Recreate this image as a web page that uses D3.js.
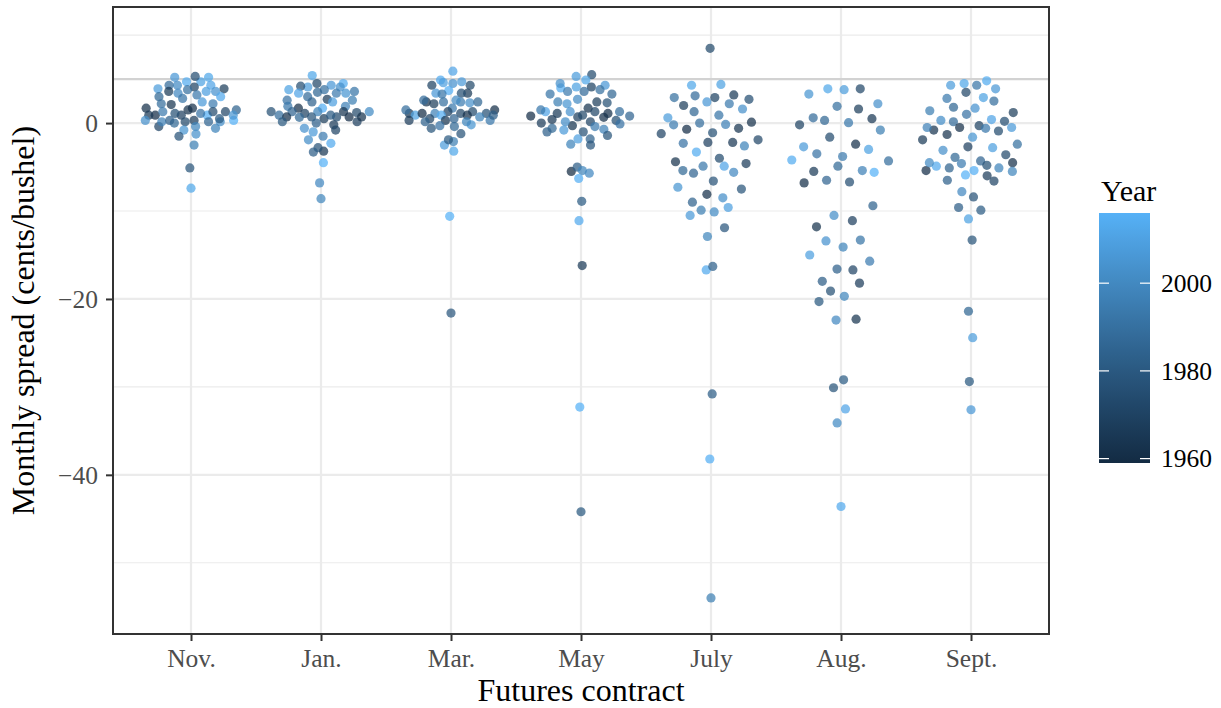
<!DOCTYPE html>
<html>
<head>
<meta charset="utf-8">
<script src="https://cdn.jsdelivr.net/npm/d3@7"></script>
<style>
  html, body { margin: 0; padding: 0; background: #ffffff; }
  svg { display: block; font-family: "Liberation Serif", "Times New Roman", serif; }
</style>
</head>
<body>
<svg id="chart" width="1221" height="708"></svg>
<script>
// Futures contracts on the x axis
const contracts = ["Nov.", "Jan.", "Mar.", "May", "July", "Aug.", "Sept."];

// Monthly spread (cents/bushel) and the year of each observation, per contract
const spreadNov = [3.9, 4.7, 5.2, 5.2, 5.3, 4.7, 3.9, 4.1, 4.3, 3.8, 4.3, 3.6, 4.3, 3.6, 3.6, 3.2, 3.4, 3.0, 3.0, 2.8,
  2.2, 2.1, 2.4, 2.2, 1.7, 1.3, 0.9, 0.9, 0.3, 1.3, 0.9, 1.5, 1.5, 1.1, 0.9, 1.3, 1.7, 1.1, 0.9, 0.3,
  0.15, -0.4, 0.0, 0.15, 0.3, -0.4, 0.15, -0.6, 0.15, -0.8, -1.5, -1.25, -2.5, -5.1, -7.4, 0.5, 0.3];
const yearNov = [1968, 2010, 2012, 2006, 1975, 2014, 2008, 1970, 2001, 1990, 2011, 2004, 1988, 1966, 2009, 1993, 2000, 2013, 1986, 1992,
  1995, 1964, 2007, 1989, 1962, 1972, 1960, 2015, 2016, 1994, 1969, 1963, 1984, 1991, 2005, 1974, 1961, 1976, 1965, 2003,
  2002, 1971, 1987, 1997, 1967, 1999, 1985, 1998, 1973, 2005, 1977, 2003, 1996, 1978, 2012, 1980, 1983];

const spreadJan = [5.4, 4.5, 4.1, 3.8, 4.3, 4.5, 4.1, 4.2, 3.8, 3.5, 3.6, 3.4, 3.4, 3.4, 3.0, 2.6, 2.7, 2.4, 2.6, 2.4,
  1.9, 1.7, 1.9, 1.7, 1.3, 1.3, 0.9, 1.3, 1.1, 1.2, 1.3, 1.3, 0.7, 0.65, 0.5, 0.7, 0.7, 0.7, 0.15, 0.7,
  0.0, -0.2, -0.6, -1.0, -0.8, -1.5, -1.9, -2.3, -3.2, -2.8, -3.3, -4.5, -6.8, -8.6, 0.9, 0.15];
const yearJan = [2012, 1972, 2008, 2010, 2006, 2014, 2003, 1975, 1990, 1986, 1992, 2005, 2011, 1994, 1988, 1996, 1966, 2009, 1991, 1984,
  1997, 2015, 1993, 1961, 1985, 1964, 1989, 1998, 1970, 1973, 2001, 1976, 1960, 1987, 1968, 1962, 1974, 1978, 1969, 1963,
  1983, 1967, 2004, 2007, 1971, 1995, 2002, 2013, 1965, 1977, 1982, 2016, 2000, 1999, 1981, 1980];

const spreadMar = [5.9, 4.7, 4.9, 4.6, 4.3, 4.5, 4.3, 3.7, 3.4, 3.4, 3.4, 3.3, 2.4, 2.6, 2.2, 2.4, 2.4, 2.6, 2.3, 2.4,
  1.5, 1.1, 1.1, 0.9, 1.3, 1.7, 1.1, 1.1, 1.5, 1.1, 1.3, 0.9, 0.9, 0.3, 0.5, 0.3, 0.5, 0.7, 0.3, -0.2,
  -0.4, -0.6, -0.3, -1.2, -2.5, -2.1, -1.9, -3.2, 0.15, 0.15, 0.9, -10.6, -21.6];
const yearMar = [2011, 2007, 2013, 2009, 1973, 2004, 1970, 2015, 1966, 2006, 1975, 1992, 1963, 1988, 1968, 1995, 1990, 2001, 2003, 1986,
  1961, 1965, 1972, 2010, 1974, 1994, 1997, 1976, 1989, 1960, 1969, 1962, 2014, 1964, 1985, 1993, 1971, 1998, 1967, 2005,
  1987, 1978, 1991, 1977, 2008, 1996, 1980, 2012, 1984, 1999, 1982, 2016, 1979];

const spreadMay = [5.5, 5.3, 4.9, 4.0, 4.1, 4.3, 4.1, 4.5, 3.8, 3.6, 3.6, 3.3, 3.3, 2.7, 2.4, 2.2, 2.4, 2.3, 1.7, 1.3,
  1.1, 1.3, 1.1, 1.3, 1.3, 1.5, 0.8, 0.8, 0.4, 0.7, 0.9, 0.65, 0.3, 0.0, 0.15, -0.3, 0.15, -0.4, -0.1, -0.6,
  -1.0, -0.8, -1.0, -0.7, -1.4, -1.8, -1.8, -2.4, -2.5, -5.5, -5.0, -5.4, -6.3, -5.7, -8.9, -11.1, -16.2, -32.3, -44.2];
const yearMay = [1974, 2008, 2012, 2014, 1970, 2006, 2010, 2003, 1990, 1988, 1994, 1986, 1992, 2001, 1996, 2005, 1968, 1976, 1963, 2011,
  1966, 1972, 1961, 2004, 1989, 1993, 1985, 1960, 1965, 1969, 1973, 1962, 1975, 1967, 1971, 1964, 2002, 1995, 1991, 1987,
  1983, 2007, 1977, 1997, 1978, 1984, 2009, 1998, 1979, 1959, 1982, 1999, 2015, 2000, 1981, 2013, 1966, 2016, 1980];

const spreadJuly = [8.5, 4.3, 4.4, 2.9, 2.4, 3.1, 2.9, 2.7, 3.2, 2.2, 2.0, 1.6, 1.3, 0.6, 0.9, -0.2, 0.0, -0.15, 0.1, -0.6,
  -1.2, -0.7, -1.1, -2.3, -2.2, -2.2, -1.9, -2.6, -3.3, -4.4, -4.9, -5.7, -4.9, -4.0, -4.6, -5.6, -5.4, -7.3, -8.1, -6.6,
  -7.5, -8.5, -9.0, -10.5, -9.9, -10.1, -9.6, -11.9, -12.9, -16.7, -16.3, -30.8, -38.2, -54.0];
const yearJuly = [1973, 2012, 2010, 1990, 2006, 1988, 1970, 1975, 1966, 1994, 1968, 2003, 1986, 2008, 1992, 1995, 1989, 1997, 1962, 1964,
  1971, 1960, 1976, 1991, 1965, 1969, 1972, 1998, 2014, 1963, 2011, 1985, 1993, 1974, 1967, 2000, 1987, 2005, 1961, 1977,
  1978, 2002, 1984, 2007, 1996, 2001, 2009, 1979, 1999, 2013, 1983, 1982, 2015, 1996];

const spreadAug = [3.9, 3.8, 3.3, 3.9, 2.2, 1.6, 1.9, 0.5, 0.05, 0.6, -0.2, 0.3, -0.8, -1.6, -2.4, -2.7, -3.0, -3.5, -3.8, -4.3,
  -4.2, -4.9, -5.6, -5.4, -5.5, -6.7, -6.8, -6.5, -9.4, -11.1, -10.5, -11.8, -13.3, -13.4, -14.1, -15.0, -15.7, -16.7, -16.6, -18.2,
  -18.0, -19.1, -19.7, -20.3, -22.3, -22.4, -29.2, -30.1, -32.5, -34.1, -43.6];
const yearAug = [2012, 2008, 2005, 1972, 2003, 1968, 1990, 1965, 1993, 1988, 1970, 1986, 1996, 1974, 1962, 2007, 2010, 1991, 1994, 1989,
  2014, 1987, 2016, 1997, 1966, 1975, 1961, 1985, 1984, 1969, 2002, 1963, 1992, 2004, 1998, 2009, 1995, 1971, 1983, 1967,
  1982, 1976, 1999, 1980, 1964, 2000, 1981, 1978, 2011, 2001, 2013];

const spreadSept = [4.3, 4.5, 4.3, 4.8, 3.9, 3.5, 2.9, 2.5, 2.8, 1.8, 1.7, 1.0, 1.4, 1.2, 0.3, 0.15, 0.4, 0.2, -0.5, -0.8,
  -0.5, -0.3, -0.6, -0.9, -0.5, -1.9, -1.3, -1.6, -2.7, -2.8, -2.4, -3.6, -3.1, -3.9, -4.6, -4.3, -4.8, -4.5, -4.9, -5.4,
  -5.1, -5.4, -5.1, -4.5, -5.5, -5.9, -6.0, -6.6, -6.5, -7.8, -8.4, -9.6, -9.9, -10.9, -13.3, -21.4, -24.4, -29.4, -32.6];
const yearSept = [2008, 2012, 1992, 2014, 2006, 1972, 2010, 1989, 1994, 1986, 2004, 1991, 1996, 1968, 2002, 1988, 2011, 1975, 1961, 1964,
  2007, 1970, 1993, 1974, 1997, 1966, 1963, 2005, 1969, 2009, 1990, 1973, 2003, 1987, 1995, 1985, 1976, 1962, 2013, 1960,
  1984, 2015, 1998, 2001, 1999, 2016, 1967, 1971, 1983, 2000, 1977, 1982, 1981, 2010, 1978, 1986, 2008, 1980, 2006];

// Axis and legend ticks
const yTicks = [0, -20, -40];
const yMinorTicks = [10, -10, -30, -50];
const referenceLevel = 5;
const yearTicks = [1960, 1980, 2000];

const spreadSets = [spreadNov, spreadJan, spreadMar, spreadMay, spreadJuly, spreadAug, spreadSept];
const yearSets = [yearNov, yearJan, yearMar, yearMay, yearJuly, yearAug, yearSept];

// ---------------- layout ----------------
const W = 1221, H = 708;
const panel = { left: 113, right: 1049, top: 7, bottom: 634 };
const svg = d3.select("#chart");

const x = d3.scalePoint().domain(contracts).range([panel.left, panel.right]).padding(0.6);
const y = d3.scaleLinear().domain([-58.1, 13.2]).range([panel.bottom, panel.top]);

const allYears = yearSets.flat();
const yearExtent = [1959, 2016];
const color = d3.scaleLinear().domain(yearExtent).range(["#132B43", "#56B1F7"]).interpolate(d3.interpolateLab);

// ---------------- quasirandom offsets ----------------
function vanDerCorput(k) {
  let v = 0, denom = 1;
  while (k > 0) { denom *= 2; v += (k % 2) / denom; k = Math.floor(k / 2); }
  return v;
}
function quantile7(sorted, p) {
  const h = (sorted.length - 1) * p, lo = Math.floor(h), hi = Math.ceil(h);
  return sorted[lo] + (h - lo) * (sorted[hi] - sorted[lo]);
}
function quasiOffsets(vals, halfWidth) {
  const n = vals.length;
  const sorted = vals.slice().sort((a, b) => a - b);
  const sd = d3.deviation(vals);
  const iqr = quantile7(sorted, 0.75) - quantile7(sorted, 0.25);
  const lo = Math.min(sd, iqr / 1.34);
  const bw = 0.9 * (lo > 0 ? lo : sd) * Math.pow(n, -0.2);
  const dens = v => d3.sum(vals, u => Math.exp(-0.5 * ((v - u) / bw) ** 2));
  const g0 = sorted[0] - 3 * bw, g1 = sorted[n - 1] + 3 * bw;
  let maxD = 0;
  for (let i = 0; i < 512; i++) maxD = Math.max(maxD, dens(g0 + (g1 - g0) * i / 511));
  // rank with ties broken by order of appearance
  const order = d3.range(n).sort((a, b) => (vals[a] - vals[b]) || (a - b));
  const rank = new Array(n);
  order.forEach((idx, r) => { rank[idx] = r + 1; });
  return vals.map((v, i) => (vanDerCorput(rank[i]) - 0.5) * 2 * (dens(v) / maxD) * halfWidth);
}

const halfWidth = 0.4 * x.step();
const points = [];
contracts.forEach((c, ci) => {
  const vals = spreadSets[ci], yrs = yearSets[ci];
  const offs = quasiOffsets(vals, halfWidth);
  vals.forEach((v, i) => points.push({ contract: c, spread: v, year: yrs[i], dx: offs[i] }));
});

// ---------------- panel ----------------
svg.append("rect").attr("width", W).attr("height", H).attr("fill", "#ffffff");

const grid = svg.append("g");
grid.selectAll(".minor").data(yMinorTicks).join("line")
  .attr("x1", panel.left).attr("x2", panel.right)
  .attr("y1", d => y(d)).attr("y2", d => y(d))
  .attr("stroke", "#EBEBEB").attr("stroke-width", 1.1);
grid.selectAll(".major").data(yTicks).join("line")
  .attr("x1", panel.left).attr("x2", panel.right)
  .attr("y1", d => y(d)).attr("y2", d => y(d))
  .attr("stroke", "#EBEBEB").attr("stroke-width", 2.2);
grid.selectAll(".vmajor").data(contracts).join("line")
  .attr("x1", d => x(d)).attr("x2", d => x(d))
  .attr("y1", panel.top).attr("y2", panel.bottom)
  .attr("stroke", "#EBEBEB").attr("stroke-width", 2.2);

// reference level
svg.append("line")
  .attr("x1", panel.left).attr("x2", panel.right)
  .attr("y1", y(referenceLevel)).attr("y2", y(referenceLevel))
  .attr("stroke", "#D2D2D2").attr("stroke-width", 2.4);

// points
svg.append("g").selectAll("circle").data(points).join("circle")
  .attr("cx", d => x(d.contract) + d.dx)
  .attr("cy", d => y(d.spread))
  .attr("r", 4.6)
  .attr("fill", d => color(d.year))
  .attr("fill-opacity", 0.72);

// border
svg.append("rect")
  .attr("x", panel.left).attr("y", panel.top)
  .attr("width", panel.right - panel.left).attr("height", panel.bottom - panel.top)
  .attr("fill", "none").attr("stroke", "#333333").attr("stroke-width", 2);

// ---------------- axes ----------------
const yAxis = svg.append("g").attr("transform", `translate(${panel.left},0)`)
  .call(d3.axisLeft(y).tickValues(yTicks).tickSize(7).tickPadding(8));
const xAxis = svg.append("g").attr("transform", `translate(0,${panel.bottom})`)
  .call(d3.axisBottom(x).tickSize(7).tickPadding(8));
[yAxis, xAxis].forEach(a => {
  a.select(".domain").remove();
  a.selectAll(".tick line").attr("stroke", "#333333").attr("stroke-width", 2);
  a.selectAll(".tick text").attr("fill", "#4D4D4D")
    .style("font-family", "'Liberation Serif', serif").style("font-size", "25.5px");
});
yAxis.selectAll(".tick text").attr("dy", "0.34em");

svg.append("text")
  .attr("x", (panel.left + panel.right) / 2).attr("y", 701)
  .attr("text-anchor", "middle").attr("fill", "#000")
  .style("font-size", "32px").text("Futures contract");

svg.append("text")
  .attr("transform", `translate(34,${(panel.top + panel.bottom) / 2}) rotate(-90)`)
  .attr("text-anchor", "middle").attr("fill", "#000")
  .style("font-size", "32px").text("Monthly spread (cents/bushel)");

// ---------------- legend ----------------
const bar = { x: 1099, y: 213, w: 51, h: 250 };
const defs = svg.append("defs");
const grad = defs.append("linearGradient").attr("id", "yearGrad")
  .attr("x1", 0).attr("y1", 1).attr("x2", 0).attr("y2", 0);
d3.range(0, 1.0001, 0.05).forEach(t => {
  grad.append("stop").attr("offset", t)
    .attr("stop-color", color(yearExtent[0] + t * (yearExtent[1] - yearExtent[0])));
});
svg.append("text").attr("x", 1101).attr("y", 201)
  .attr("fill", "#000").style("font-size", "30px").text("Year");
svg.append("rect").attr("x", bar.x).attr("y", bar.y)
  .attr("width", bar.w).attr("height", bar.h).attr("fill", "url(#yearGrad)");
const yearScale = d3.scaleLinear().domain(yearExtent).range([bar.y + bar.h, bar.y]);
const lg = svg.append("g");
yearTicks.forEach(t => {
  const ty = yearScale(t);
  lg.append("line").attr("x1", bar.x).attr("x2", bar.x + 10).attr("y1", ty).attr("y2", ty)
    .attr("stroke", "#ffffff").attr("stroke-width", 1.2);
  lg.append("line").attr("x1", bar.x + bar.w - 10).attr("x2", bar.x + bar.w).attr("y1", ty).attr("y2", ty)
    .attr("stroke", "#ffffff").attr("stroke-width", 1.2);
  lg.append("text").attr("x", 1161).attr("y", ty).attr("dy", "0.34em")
    .attr("fill", "#000").style("font-size", "25.5px").text(t);
});
</script>
</body>
</html>
